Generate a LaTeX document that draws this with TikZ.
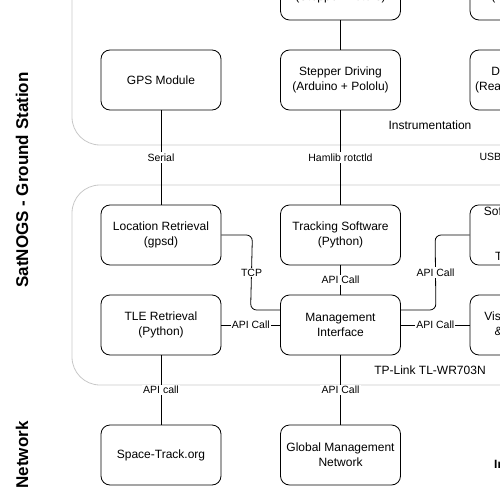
\documentclass[tikz,border=0pt]{standalone}
\usepackage{fontspec}
\setmainfont{Liberation Sans}
\usetikzlibrary{calc}
\definecolor{contgray}{RGB}{200,200,200}
\begin{document}
\begin{tikzpicture}[x=1pt,y=-1pt,
  box/.style={draw, line width=0.8pt, rounded corners=9pt, minimum width=120pt, minimum height=60pt,
    align=center, font=\fontsize{12}{15}\selectfont, inner sep=2pt},
  lbl/.style={fill=white, font=\fontsize{10.5}{12}\selectfont, inner sep=1.2pt},
  conn/.style={line width=0.8pt},
  cont/.style={draw=contgray, line width=0.8pt, rounded corners=28pt},
  side/.style={rotate=90, font=\fontsize{17}{20}\selectfont\bfseries},
  contlbl/.style={font=\fontsize{12}{15}\selectfont},
]
\useasboundingbox (0,0) rectangle (500,500);
\clip (0,0) rectangle (500,500);

% containers
\draw[cont] (72,-100) rectangle (700,145);
\draw[cont] (72,185) rectangle (700,385);
\node[contlbl] (instlbl) at (430,125) {Instrumentation};
\node[contlbl] (tplbl) at (430,370) {TP-Link TL-WR703N};

% side labels
\node[side] (gslbl) at (22,180) {SatNOGS - Ground Station};
\node[side] (netlbl) at (22,455) {Network};
\node[font=\fontsize{12}{15}\selectfont\bfseries, anchor=base west, inner sep=0pt] (inetlbl) at (494,468) {Internet};

% boxes
\node[box] (rot) at (340.5,-10) {Antenna Rotator\\(Stepper Motors)};
\node[box] (ant) at (530,-10) {Antennas\\(Yagi / Helical)};
\node[box] (gps) at (161,80) {GPS Module};
\node[box] (stp) at (340.5,80) {Stepper Driving\\(Arduino + Pololu)};
\node[box] (dvb) at (530,80) {DVB-T Dongle\\(Realtek RTL2832U)};
\node[box] (loc) at (161,235) {Location Retrieval\\(gpsd)};
\node[box] (trk) at (340.5,235) {Tracking Software\\(Python)};
\node[box] (sdr) at (530,235) {Software Defined\\Radio\\Receiver\\Telemetry Rx};
\node[box] (tle) at (161,325) {TLE Retrieval\\(Python)};
\node[box] (mgmt) at (340.5,325) {Management\\Interface};
\node[box] (vis) at (530,325) {Visibility Analysis\\\& Scheduling};
\node[box] (st) at (161,455) {Space-Track.org};
\node[box] (gmn) at (340.5,455) {Global Management\\Network};

% connectors
\draw[conn] (rot) -- (stp);
\draw[conn] (gps) -- (loc);
\draw[conn] (stp) -- (trk);
\draw[conn] (dvb) -- (sdr);
\coordinate (tcpa) at ($(loc.east)+(31,0)$);
\coordinate (tcpb) at ($(mgmt.west)+(-29.5,-15)$);
\draw[conn, rounded corners=6pt] (loc.east) -- (tcpa) -- (tcpb) -- ($(mgmt.west)+(0,-15)$);
\draw[conn] (tle) -- (mgmt);
\draw[conn] (trk) -- (mgmt);
\coordinate (apia) at ($(mgmt.east)+(35,-15)$);
\coordinate (apib) at ($(sdr.west)+(-34.5,0)$);
\draw[conn, rounded corners=6pt] ($(mgmt.east)+(0,-15)$) -- (apia) -- (apib) -- (sdr.west);
\draw[conn] (mgmt) -- (vis);
\draw[conn] (tle) -- (st);
\draw[conn] (mgmt) -- (gmn);

% connector labels
\node[lbl] (l1) at ($(gps.south)!0.5!(loc.north)$) {Serial};
\node[lbl] (l2) at ($(stp.south)!0.5!(trk.north)$) {Hamlib rotctld};
\node[lbl] (l3) at ($(dvb.south)!0.5!(sdr.north)$) {USB (rtl-sdr / librtlsdr)};
\node[lbl] (l4) at ($(tcpa)!0.5!(tcpb)$) {TCP};
\node[lbl] (l5) at ($(tle.east)!0.5!(mgmt.west)$) {API Call};
\node[lbl] (l6) at ($(trk.south)!0.5!(mgmt.north)$) {API Call};
\node[lbl] (l7) at ($(apia)!0.5!(apib)$) {API Call};
\node[lbl] (l8) at ($(mgmt.east)!0.5!(vis.west)$) {API Call};
\node[lbl] (l9) at ($(tle.south)!0.5!(st.north)$) {API call};
\node[lbl] (l10) at ($(mgmt.south)!0.5!(gmn.north)$) {API Call};
\end{tikzpicture}
\end{document}
